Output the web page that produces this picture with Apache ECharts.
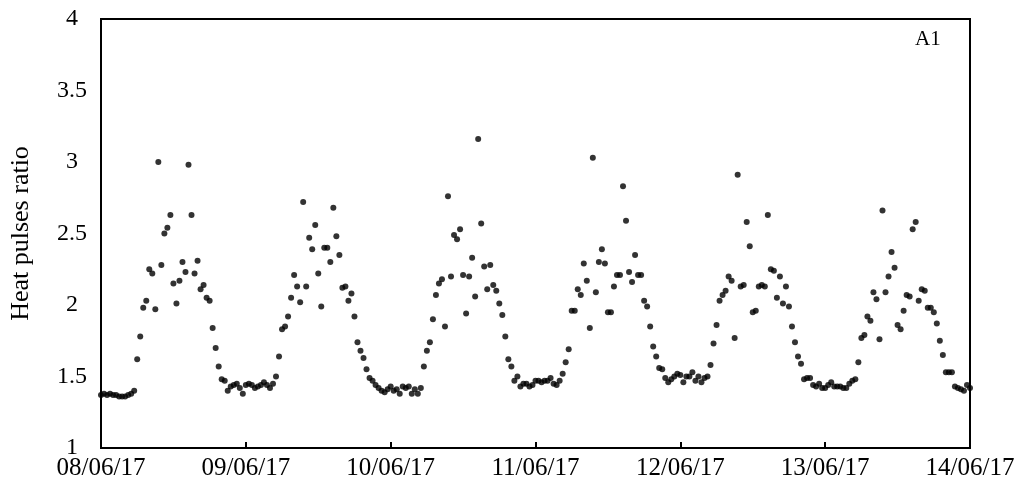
<!DOCTYPE html>
<html>
<head>
<meta charset="utf-8">
<title>Heat pulses ratio A1</title>
<script src="https://cdn.jsdelivr.net/npm/echarts@6/dist/echarts.min.js"></script>
<style>
  html, body { margin: 0; padding: 0; background: #fff; }
  #chart { width: 1023px; height: 497px; }
</style>
</head>
<body>
<div id="chart"></div>
<script>
// Day labels under the x axis (one tick per day, midnight)
const dayLabels = ['08/06/17', '09/06/17', '10/06/17', '11/06/17', '12/06/17', '13/06/17', '14/06/17'];

// Heat pulse ratio, one reading every 30 minutes, grouped by day
const day1 = [1.37,1.38,1.37,1.38,1.37,1.37,1.36,1.36,1.36,1.37,1.38,1.40,1.62,1.78,1.98,2.03,2.25,2.22,1.97,3.00,
              2.28,2.50,2.54,2.63,2.15,2.01,2.17,2.30,2.23,2.98,2.63,2.22,2.31,2.11,2.14,2.05,2.03,1.84,1.70,1.57,
              1.48,1.47,1.40,1.43,1.44,1.45,1.42,1.38];
const day2 = [1.44,1.45,1.44,1.42,1.43,1.44,1.46,1.44,1.42,1.45,1.50,1.64,1.83,1.85,1.92,2.05,2.21,2.13,2.02,2.72,
              2.13,2.47,2.39,2.56,2.22,1.99,2.40,2.40,2.30,2.68,2.48,2.35,2.12,2.13,2.03,2.08,1.92,1.74,1.68,1.63,
              1.55,1.49,1.47,1.44,1.42,1.40,1.39,1.41];
const day3 = [1.43,1.40,1.41,1.38,1.43,1.42,1.43,1.38,1.41,1.38,1.42,1.57,1.68,1.74,1.90,2.07,2.15,2.18,1.85,2.76,
              2.20,2.49,2.46,2.53,2.21,1.94,2.20,2.33,2.06,3.16,2.57,2.27,2.11,2.28,2.14,2.10,2.01,1.93,1.78,1.62,
              1.57,1.47,1.50,1.43,1.45,1.45,1.43,1.44];
const day4 = [1.47,1.47,1.46,1.47,1.47,1.49,1.45,1.44,1.47,1.52,1.60,1.69,1.96,1.96,2.11,2.07,2.29,2.17,1.84,3.03,
              2.09,2.30,2.39,2.29,1.95,1.95,2.13,2.21,2.21,2.83,2.59,2.23,2.16,2.35,2.21,2.21,2.03,1.99,1.85,1.71,
              1.64,1.56,1.55,1.49,1.46,1.48,1.50,1.52];
const day5 = [1.51,1.46,1.50,1.50,1.53,1.47,1.50,1.46,1.49,1.50,1.58,1.73,1.86,2.03,2.07,2.10,2.20,2.17,1.77,2.91,
              2.13,2.14,2.58,2.41,1.95,1.96,2.13,2.14,2.13,2.63,2.25,2.24,2.05,2.20,2.01,2.13,1.99,1.85,1.74,1.64,
              1.59,1.48,1.49,1.49,1.44,1.43,1.45,1.42];
const day6 = [1.42,1.44,1.46,1.43,1.43,1.43,1.42,1.42,1.45,1.47,1.48,1.60,1.77,1.79,1.92,1.89,2.09,2.04,1.76,2.66,
              2.09,2.20,2.37,2.26,1.86,1.83,1.96,2.07,2.06,2.53,2.58,2.03,2.11,2.10,1.98,1.98,1.95,1.87,1.75,1.65,
              1.53,1.53,1.53,1.43,1.42,1.41,1.40,1.44,1.42];

const days = [day1, day2, day3, day4, day5, day6];
const STEP_H = 0.5; // hours between readings

// [hours since 08/06/17 00:00, ratio]
const points = [];
days.forEach((vals, d) => {
  vals.forEach((v, k) => points.push([d * 24 + k * STEP_H, v]));
});

const serif = '"Liberation Serif", "Times New Roman", serif';
const chart = echarts.init(document.getElementById('chart'), null, { renderer: 'canvas' });
chart.setOption({
  animation: false,
  backgroundColor: '#fff',
  title: {
    text: 'A1',
    left: 910, top: 24,
    textStyle: { fontFamily: serif, fontSize: 21, fontWeight: 'normal', color: '#000' }
  },
  grid: {
    left: 100, right: 53, top: 19, bottom: 49,
    show: true, borderColor: '#000', borderWidth: 2, backgroundColor: 'transparent'
  },
  xAxis: {
    type: 'value', min: 0, max: 144, interval: 24,
    axisLine: { show: true, onZero: false, lineStyle: { color: '#000', width: 2 } },
    axisTick: { show: true, inside: true, length: 6, lineStyle: { color: '#000', width: 2 } },
    axisLabel: {
      margin: 8, color: '#000', fontFamily: serif, fontSize: 25,
      formatter: v => dayLabels[Math.round(v / 24)]
    },
    splitLine: { show: false }
  },
  yAxis: {
    type: 'value', min: 1, max: 4, interval: 0.5,
    name: 'Heat pulses ratio', nameLocation: 'middle', nameRotate: 90, nameGap: 67,
    nameTextStyle: { fontFamily: serif, fontSize: 26, color: '#000' },
    axisLine: { show: true, lineStyle: { color: '#000', width: 2 } },
    axisTick: { show: false },
    axisLabel: { margin: 29, align: 'center', color: '#000', fontFamily: serif, fontSize: 24 },
    splitLine: { show: false }
  },
  series: [{
    type: 'scatter',
    data: points,
    symbol: 'circle',
    symbolSize: 6,
    itemStyle: { color: '#000' },
    clip: false
  }]
});
</script>
</body>
</html>
